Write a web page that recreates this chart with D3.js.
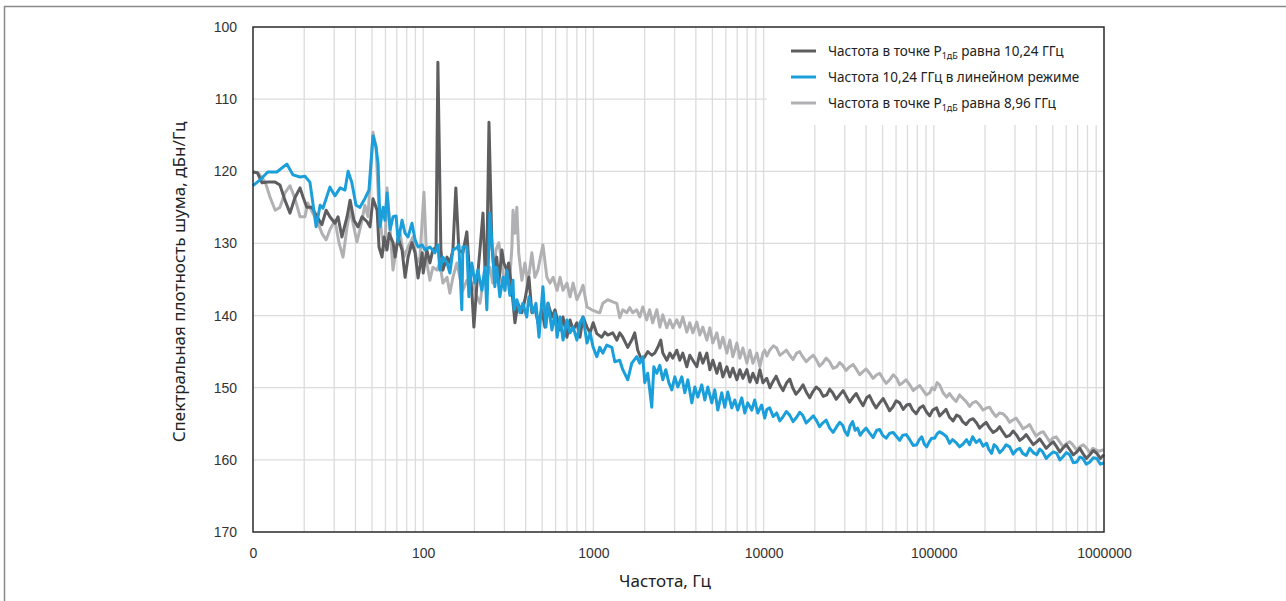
<!DOCTYPE html>
<html>
<head>
<meta charset="utf-8">
<script src="https://cdn.jsdelivr.net/npm/d3@7/dist/d3.min.js"></script>
<style>
  body { margin: 0; background: #fff; }
  svg { display: block; font-family: "Noto Sans", sans-serif; }
  .tick text { fill: #333; font-size: 14px; }
</style>
</head>
<body>
<div class="chart"></div>
<script>
// series: [frequency, Hz ; noise density, dBc/Hz]
const seriesDark = [
  [10,120.1],[10.6,120.2],[11.3,121.6],[12.2,121.5],[13.5,121.5],[14.4,121.9],[15.4,124.0],[16.5,125.8],[17.6,123.7],[18.9,122.3],
  [19.7,123.6],[20.7,125.0],[22.2,125.0],[23.8,126.3],[25.4,127.4],[26.9,125.4],[28.3,126.3],[30.3,127.2],[31.6,126.3],[33.3,129.1],
  [35.7,126.3],[37.2,124.0],[39.2,126.8],[41.4,127.7],[43.7,126.3],[46.8,127.0],[48.7,127.7],[50.7,123.8],[53.6,125.4],[55.0,130.5],
  [57.3,131.9],[58.9,129.1],[61.3,130.9],[63.0,128.6],[66.5,129.9],[68.4,131.9],[71.2,129.2],[75.1,130.9],[78.3,134.7],[81.5,131.9],
  [85.9,129.9],[89.6,131.3],[93.3,134.8],[98.7,131.3],[100,134.1],[105,130.9],[109.5,132.7],[114,130.9],[119,130.5],[122,104.9],
  [127,130.9],[130.5,133.7],[138,131.9],[143.5,132.7],[149.5,130.9],[155.5,122.3],[162,130.9],[171,131.3],[180.5,128.4],[185.5,132.7],
  [193,136.5],[198.5,141.6],[207,135.5],[215.5,130.9],[224.5,125.8],[230.5,133.3],[236.5,132.7],[243.5,113.2],[253.5,130.5],[260,133.3],
  [270.5,131.9],[278,135.5],[290,130.9],[297.5,132.7],[310,133.7],[318,132.7],[332,136.5],[346,141.0],[360,138.3],[380,139.6],
  [396,137.8],[418,134.7],[435,139.6],[453,138.8],[472,141.0],[498,139.2],[519,141.6],[541,138.3],[571,140.2],[595,139.2],
  [637,142.0],[663,140.2],[699,143.0],[729,140.6],[760,142.0],[800,141.0],[834,143.0],[869,140.2],[917,141.6],[956,142.4],
  [997,141.0],[1047,142.5],[1120,143.0],[1167,142.3],[1215,142.7],[1300,142.4],[1373,143.4],[1428,142.4],[1488,143.0],[1592,144.4],
  [1681,143.4],[1750,142.4],[1822,144.8],[1923,146.2],[2003,145.7],[2086,145.0],[2202,145.5],[2294,145.2],[2389,144.4],[2488,143.4],
  [2557,145.2],[2700,146.2],[2812,145.2],[2928,145.9],[3091,144.8],[3219,146.2],[3352,145.2],[3539,147.1],[3685,145.5],[3838,146.2],
  [4052,147.1],[4220,145.2],[4394,146.6],[4640,145.2],[4832,147.5],[5032,146.2],[5313,148.0],[5533,146.6],[5762,148.5],[6083,147.1],
  [6336,148.5],[6598,147.3],[6966,148.9],[7255,147.5],[7555,148.7],[7977,147.5],[8307,149.2],[8651,148.0],[9134,149.3],[9512,147.5],
  [9906,149.3],[10430,148.7],[10900,150.0],[11310,149.2],[11850,148.4],[12430,149.6],[13000,150.4],[13670,149.3],[14250,148.8],[14820,150.0],
  [15500,150.9],[16290,150.3],[17050,149.6],[17910,150.7],[18650,151.4],[19420,150.6],[20350,149.9],[21350,150.3],[22400,151.2],[23470,151.0],
  [24450,150.2],[25450,150.7],[26700,151.6],[27980,151.0],[29300,150.4],[30760,151.3],[32000,152.0],[33350,151.4],[35000,150.8],[36670,151.7],
  [38400,152.5],[40300,151.4],[41900,151.1],[43710,152.0],[45800,152.8],[48050,152.1],[50400,151.5],[52840,152.4],[55000,153.2],[57320,152.7],
  [60100,151.8],[63020,152.1],[66100,153.0],[69290,152.4],[72200,152.3],[75150,153.1],[78800,153.6],[82620,152.8],[86600,152.5],[90830,153.4],
  [94600,153.9],[98500,153.1],[103900,152.8],[108200,153.9],[112600,153.5],[118000,153.0],[123800,154.1],[129800,154.6],[136100,153.8],[141800,154.0],
  [147700,154.7],[154800,155.1],[162300,154.5],[170200,154.3],[178500,154.9],[185900,155.6],[193600,155.2],[203000,154.8],[212900,155.6],[223200,156.2],
  [234000,155.9],[243800,155.4],[253900,156.1],[266200,156.8],[279200,156.6],[292700,156.0],[306900,156.6],[319700,157.3],[333000,157.0],[349100,156.5],
  [366100,157.2],[383900,157.9],[402500,157.5],[419300,157.1],[436700,157.7],[457900,158.4],[480100,157.9],[503400,157.5],[527900,158.2],[549800,158.9],
  [572700,158.4],[600500,157.9],[629700,158.6],[660300,159.3],[692400,158.9],[721000,158.4],[751100,159.1],[787600,159.8],[825800,159.3],[865800,158.7],
  [907900,159.1],[952000,159.8],[1000000,159.3]
];

const seriesBlue = [
  [10,122.0],[11.0,121.2],[12.2,120.1],[13.8,120.1],[15.8,119.0],[17.2,120.5],[18.9,120.8],[20.2,120.7],[21.6,121.5],[23.5,127.7],
  [24.8,124.7],[25.8,125.1],[28.3,122.2],[30.3,123.4],[32.5,122.3],[34.7,122.6],[36.2,120.0],[38.1,121.6],[40.3,124.7],[42.5,125.0],
  [45.4,123.8],[48.0,122.6],[50.7,115.1],[52.8,116.6],[54.3,118.9],[55.8,127.7],[58.1,125.0],[59.6,126.8],[61.3,123.0],[63.9,128.1],
  [66.5,126.3],[69.3,126.2],[71.2,129.8],[75.1,126.8],[78.3,128.6],[81.5,129.1],[85.9,127.2],[89.6,129.5],[93.3,130.5],[98.7,130.2],
  [102.3,130.9],[109.5,130.5],[117.2,131.3],[122,130.2],[125.3,133.7],[130.5,131.9],[138,132.7],[143.5,134.1],[149.5,130.9],[157.7,130.6],
  [162,130.2],[168.6,139.2],[171,130.5],[180.5,130.5],[185.5,137.4],[193,132.7],[201.5,135.5],[209.5,133.7],[221,136.5],[230.5,133.3],
  [236.5,139.2],[246.5,125.8],[256.5,131.9],[263.5,136.0],[270.5,133.3],[282,137.4],[294.5,134.7],[302,136.5],[310,133.7],[323,137.2],
  [337,135.1],[341.5,139.2],[355,137.8],[370,139.6],[385,138.3],[406,140.2],[418,137.4],[441.5,139.6],[460,138.3],[479,143.0],
  [505,136.0],[526,141.6],[541,138.3],[571,142.0],[595,139.6],[612,143.0],[637,140.2],[663,143.4],[699,140.6],[729,142.4],
  [760,141.6],[800,143.4],[834,141.0],[869,140.2],[917,143.8],[956,142.4],[997,144.4],[1047,145.7],[1090,144.4],[1136,145.2],
  [1198,144.1],[1283,144.4],[1336,146.4],[1428,146.2],[1488,147.5],[1592,148.9],[1681,146.6],[1797,145.7],[1872,146.6],[1950,145.7],
  [2003,149.3],[2086,148.0],[2202,152.7],[2265,147.1],[2359,148.0],[2457,146.9],[2557,148.9],[2663,147.5],[2774,149.3],[2889,150.3],
  [3009,148.5],[3134,149.9],[3307,148.5],[3445,150.7],[3588,148.9],[3786,152.1],[3944,149.9],[4107,151.3],[4334,149.6],[4514,151.7],
  [4701,149.9],[4961,152.1],[5167,150.3],[5381,153.1],[5678,150.7],[5914,152.7],[6159,150.6],[6500,152.8],[6770,151.7],[7051,153.1],
  [7441,151.4],[7749,153.5],[8071,152.1],[8517,153.1],[8870,151.7],[9237,153.5],[9747,152.4],[10150,154.2],[10450,153.0],[10860,152.8],
  [11400,154.0],[11940,153.5],[12450,154.6],[12950,154.1],[13600,153.3],[14230,153.8],[14900,154.7],[15640,154.1],[16300,153.4],[16960,153.8],
  [17800,154.9],[18650,154.4],[19600,153.9],[20500,154.6],[21300,155.4],[22230,154.9],[23300,154.5],[24440,155.6],[25600,156.2],[26870,155.4],
  [28000,154.8],[29150,155.2],[30100,156.1],[31170,156.6],[32200,155.3],[33350,154.7],[34500,155.9],[35700,155.6],[36900,156.6],[38200,156.1],
  [40000,155.6],[42000,156.3],[44000,156.9],[46170,155.9],[48100,155.8],[50100,156.6],[52500,157.0],[55090,156.3],[57800,156.2],[60560,156.8],
  [63000,157.3],[65700,156.6],[68900,156.5],[72230,157.2],[75700,158.0],[79400,157.9],[82100,157.2],[84980,156.8],[87900,157.8],[90830,158.2],
  [94000,157.5],[97200,157.0],[101100,157.0],[104500,156.4],[108160,156.1],[113400,156.4],[118900,156.8],[123800,157.7],[128900,157.2],[135100,157.6],
  [141700,158.2],[148600,157.8],[155800,157.2],[162300,157.9],[169000,156.8],[177200,157.6],[185800,157.2],[194800,158.1],[204300,157.7],[210000,158.5],
  [218500,159.1],[226000,157.9],[234000,158.2],[243800,159.0],[253900,158.6],[266200,157.9],[279200,158.2],[292700,159.2],[306900,158.6],[319700,158.4],
  [333000,159.1],[349100,159.4],[366100,158.4],[383900,159.0],[402500,159.3],[419300,158.5],[436700,158.9],[457900,159.8],[480100,159.3],[503400,158.9],
  [527900,159.1],[549800,160.0],[572700,159.6],[600500,159.0],[629700,159.3],[660300,160.4],[692400,160.3],[721000,159.6],[751100,159.8],[787600,160.6],
  [825800,160.3],[865800,159.7],[907900,159.8],[952000,160.6],[1000000,160.4]
];

const seriesLight = [
  [10,120.1],[10.7,120.2],[11.8,121.5],[12.6,123.6],[13.5,125.4],[14.4,125.0],[15.4,123.0],[16.5,122.0],[17.6,123.7],[18.9,126.3],
  [20.2,126.3],[21.0,124.4],[22.2,125.6],[23.8,126.8],[25.4,128.6],[26.9,129.5],[28.3,128.1],[30.3,126.8],[32.0,129.9],[33.8,131.9],
  [35.7,127.7],[37.2,125.4],[38.7,127.2],[40.8,129.8],[43.7,126.8],[45.4,124.7],[47.4,126.3],[50.7,114.6],[52.8,116.6],[55.0,125.4],
  [57.3,129.1],[59.6,130.9],[61.3,122.3],[63.9,128.1],[66.5,133.7],[70.2,129.9],[73.1,128.6],[77.0,131.9],[81.5,130.5],[87.2,129.1],
  [92.0,132.7],[95.7,131.9],[101,122.9],[105,132.7],[109.5,135.1],[114,133.3],[120.4,133.7],[125.3,132.7],[130.5,135.5],[138,134.7],
  [143.5,136.9],[149.5,134.7],[157.7,132.7],[164.2,134.7],[171,136.5],[180.5,135.1],[187.9,136.0],[195.8,135.5],[207,137.4],[215.5,138.3],
  [224.5,135.5],[236.5,134.7],[246.5,133.3],[256.5,135.5],[267.5,130.9],[278,129.9],[290,132.7],[302,136.5],[310,133.7],[323,134.7],
  [332,130.5],[337,125.4],[346,128.6],[355,125.0],[364,131.3],[380,135.1],[396,132.7],[412,135.5],[435,131.3],[453,134.7],
  [472,133.7],[505,130.2],[533,134.7],[556,135.5],[580,134.7],[612,136.5],[637,134.7],[663,136.5],[699,135.5],[729,137.4],
  [760,135.5],[800,137.8],[834,136.9],[869,135.8],[917,138.8],[978,139.2],[1047,139.5],[1090,139.6],[1136,138.3],[1215,137.8],
  [1300,138.1],[1373,138.3],[1428,140.3],[1488,139.2],[1570,139.6],[1636,138.9],[1703,139.6],[1797,139.2],[1872,140.2],[1950,138.8],
  [2055,140.6],[2140,139.2],[2230,141.0],[2359,139.2],[2457,141.6],[2557,139.9],[2700,141.7],[2812,140.6],[2928,141.7],[3091,140.6],
  [3219,141.6],[3352,140.2],[3539,142.3],[3685,141.0],[3838,142.4],[4052,140.9],[4220,142.7],[4394,141.6],[4640,143.4],[4832,141.7],
  [5032,143.8],[5313,142.4],[5533,144.5],[5762,143.0],[6083,145.2],[6336,143.4],[6598,145.7],[6966,143.8],[7255,145.9],[7555,144.5],
  [7977,146.6],[8307,144.8],[8651,146.6],[9134,145.2],[9512,147.1],[9906,145.2],[10150,144.8],[10450,145.6],[10860,144.8],[11400,144.2],
  [11940,144.5],[12450,145.5],[12950,145.2],[13600,144.8],[14230,145.5],[14900,146.1],[15640,145.2],[16300,145.0],[16960,145.7],[17800,146.4],
  [18650,145.9],[19600,145.5],[20500,146.2],[21300,147.0],[22230,146.6],[23300,145.9],[24440,146.4],[25600,147.3],[26870,147.1],[28000,146.5],
  [29150,146.9],[30500,147.6],[32010,147.1],[33600,146.8],[35210,147.5],[36700,148.2],[38200,147.8],[40000,147.4],[42000,148.0],[44000,148.7],
  [46170,148.2],[48100,148.0],[50100,148.7],[52500,149.4],[55090,148.9],[57800,148.2],[60560,148.7],[63000,149.6],[65700,149.3],[68900,148.9],
  [72230,149.6],[75700,150.4],[79400,150.0],[82700,149.7],[86110,150.3],[90300,151.0],[94670,150.7],[97800,150.0],[101100,150.3],[104500,149.3],
  [108160,149.6],[113400,150.7],[118900,151.3],[123800,150.8],[128900,151.4],[135100,151.9],[141700,151.0],[148600,151.5],[155800,152.0],[162300,152.6],
  [169000,152.1],[177200,151.9],[185800,152.4],[194800,153.1],[204300,152.8],[212800,152.7],[221500,153.4],[232200,154.0],[243300,153.5],[255100,153.6],
  [267500,154.1],[278600,154.8],[290200,154.5],[304300,154.2],[319000,154.9],[334500,155.7],[350800,155.4],[365400,155.1],[380700,155.9],[399200,156.7],
  [418600,156.3],[438900,156.1],[460200,156.8],[479400,157.5],[499400,157.0],[523600,156.8],[549000,157.5],[575700,158.2],[603700,157.7],[628900,157.5],
  [655100,157.9],[686900,158.6],[720200,158.2],[755100,157.9],[791800,158.4],[824200,159.0],[859200,158.4],[926900,158.8],[1000000,158.6]
];

const xTickValues = [10, 100, 1000, 10000, 100000, 1000000];
const xTickLabels = ["0", "100", "1000", "10000", "100000", "1000000"];
const yTickValues = [100, 110, 120, 130, 140, 150, 160, 170];
const legendLabels = [
  ["Частота в точке P", "1дБ", " равна 10,24 ГГц"],
  ["Частота 10,24 ГГц в линейном режиме", "", ""],
  ["Частота в точке P", "1дБ", " равна 8,96 ГГц"]
];
const seriesColors = ["#5e5e60", "#1b9fda", "#b1b1b4"];

//Margin convention
const W = 1286, H = 601;
const margin = {top: 27, left: 253, bottom: 69, right: 182};
const width = W - margin.left - margin.right;
const height = H - margin.top - margin.bottom;

const svg = d3.select('.chart').append('svg')
    .attr('width', W)
    .attr('height', H);

// outer frame
svg.append('rect')
    .attr('x', 4.5).attr('y', 6.5)
    .attr('width', W + 10).attr('height', H + 10)
    .attr('fill', 'none')
    .attr('stroke', '#8a8a8a')
    .attr('stroke-width', 1.5);

const g = svg.append('g')
    .attr('transform', `translate(${margin.left},${margin.top})`);

//Scales
const xScale = d3.scaleLog().domain([10, 1000000]).range([0, width]);
const yScale = d3.scaleLinear().domain([100, 170]).range([0, height]);

// grid: decades and their 2..9 sub-lines
const minorTicks = [];
for (let dec = 10; dec < 1000000; dec *= 10) {
    for (let m = 1; m < 10; m++) minorTicks.push(dec * m);
}
g.append('g').selectAll('line')
    .data(minorTicks.slice(1))
    .enter().append('line')
    .attr('x1', d => xScale(d)).attr('x2', d => xScale(d))
    .attr('y1', 0).attr('y2', height)
    .attr('stroke', '#dcdcdc').attr('stroke-width', 1.3);

g.append('g').selectAll('line')
    .data(yTickValues.slice(1, -1))
    .enter().append('line')
    .attr('x1', 0).attr('x2', width)
    .attr('y1', d => yScale(d)).attr('y2', d => yScale(d))
    .attr('stroke', '#dcdcdc').attr('stroke-width', 1.3);

// legend box hides the grid behind it
g.append('rect')
    .attr('x', 514).attr('y', 0)
    .attr('width', width - 514).attr('height', 98)
    .attr('fill', '#fff');

// lines
const line = d3.line()
    .x(d => xScale(d[0]))
    .y(d => yScale(d[1]));

const drawOrder = [[seriesLight, 2], [seriesDark, 0], [seriesBlue, 1]];
drawOrder.forEach(([data, ci]) => {
    g.append('path')
        .datum(data)
        .attr('fill', 'none')
        .attr('stroke', seriesColors[ci])
        .attr('stroke-width', 3)
        .attr('stroke-linejoin', 'round')
        .attr('d', line);
});

// plot frame
g.append('rect')
    .attr('width', width).attr('height', height)
    .attr('fill', 'none')
    .attr('stroke', '#2a2a2a')
    .attr('stroke-width', 1.5);

//Axes
const xAxis = d3.axisBottom(xScale)
    .tickValues(xTickValues)
    .tickFormat((d, i) => xTickLabels[i])
    .tickSize(0).tickPadding(16);
const yAxis = d3.axisLeft(yScale)
    .tickValues(yTickValues)
    .tickFormat(d3.format('d'))
    .tickSize(0).tickPadding(16);

g.append('g').attr('class', 'axis x-axis')
    .attr('transform', `translate(0,${height})`)
    .call(xAxis)
    .call(s => s.select('.domain').remove());
g.append('g').attr('class', 'axis y-axis')
    .call(yAxis)
    .call(s => s.select('.domain').remove());

//axis titles
svg.append('text')
    .attr('x', 665).attr('y', 587)
    .attr('text-anchor', 'middle')
    .attr('font-size', 17)
    .attr('fill', '#222')
    .text('Частота, Гц');

svg.append('text')
    .attr('transform', 'translate(185,282) rotate(-90)')
    .attr('text-anchor', 'middle')
    .attr('font-size', 17)
    .attr('fill', '#222')
    .text('Спектральная плотность шума, дБн/Гц');

//legend
const legend = g.selectAll('.legend')
    .data(legendLabels)
    .enter().append('g')
    .attr('class', 'legend')
    .attr('transform', (d, i) => `translate(538,${24 + i * 26})`);

legend.append('line')
    .attr('x1', 0).attr('x2', 25)
    .attr('stroke', (d, i) => seriesColors[i])
    .attr('stroke-width', 3);

const lt = legend.append('text')
    .attr('x', 37).attr('y', 5)
    .attr('font-size', 13.5)
    .attr('fill', '#222');
lt.append('tspan').text(d => d[0]);
lt.append('tspan').attr('font-size', 9).attr('dy', 3).text(d => d[1]);
lt.append('tspan').attr('dy', d => d[1] ? -3 : 0).text(d => d[2]);
</script>
</body>
</html>
